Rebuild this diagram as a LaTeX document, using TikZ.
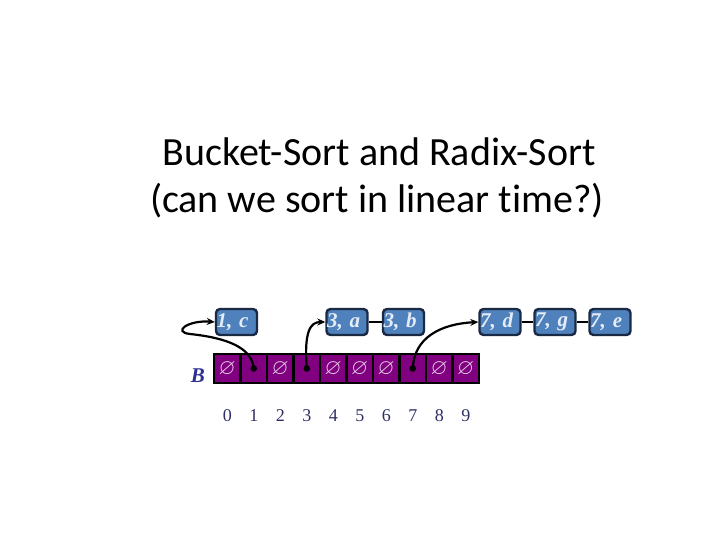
\documentclass[tikz,border=0pt]{standalone}
\usepackage{amssymb}
\usepackage{fontspec}
\setmainfont{Liberation Serif}
\newfontfamily\titlefont[Ligatures={NoCommon,NoDiscretionary}]{Carlito}
\usetikzlibrary{arrows.meta}
\definecolor{cellpurple}{HTML}{800080}
\definecolor{boxblue}{HTML}{4F81BD}
\definecolor{boxedge}{HTML}{1B2A44}
\definecolor{boxtext}{HTML}{E4ECF7}
\definecolor{labblue}{HTML}{2E3192}
\definecolor{idxblue}{HTML}{2F2F66}
\definecolor{nullcol}{HTML}{E8D0E8}
\begin{document}
\begin{tikzpicture}[x=1pt,y=-1pt,
  cell/.style={draw=black,line width=2.2pt,fill=cellpurple,minimum width=26.5pt,minimum height=29pt,inner sep=0pt},
  nullsym/.style={text=nullcol,font=\fontsize{22}{24}\selectfont,inner sep=0pt},
  dotnode/.style={circle,fill=black,inner sep=0pt,minimum size=6.5pt},
  item/.style={draw=boxedge,line width=2.4pt,fill=boxblue,rounded corners=4pt,minimum width=41pt,minimum height=26pt,inner sep=0.5pt,text width=40pt,align=left,text=boxtext,font=\fontsize{21}{22}\selectfont\bfseries\itshape},
  idx/.style={text=idxblue,font=\fontsize{18}{20}\selectfont,anchor=base},
  link/.style={line width=2.2pt,black},
  arr/.style={line width=2.2pt,black,-{Stealth[length=8pt,width=7pt]}},
  titletext/.style={font=\titlefont\fontsize{40}{44}\selectfont,anchor=base}
]
\useasboundingbox (0,0) rectangle (720,540);
\fill[white] (0,0) rectangle (720,540);

% title
\node[titletext] (t1) at (379,166) {Bucket-Sort and Radix-Sort};
\node[titletext] (t2) at (377,213) {(can we sort in linear time?)};

% array cells
\foreach \i in {0,...,9} {
  \node[cell] (c\i) at ({214+26.5*(\i+0.5)},368.5) {};
}
\foreach \i in {0,2,4,5,6,8,9} {
  \node[nullsym] (n\i) at (c\i) {$\varnothing$};
}
\node[dotnode] (d1) at (c1) {};
\node[dotnode] (d3) at (c3) {};
\node[dotnode] (d7) at (c7) {};

% indices
\foreach \i in {0,...,9} {
  \node[idx] (l\i) at ({214+26.5*(\i+0.5)},421) {\i};
}

% B label
\node[text=labblue,font=\fontsize{21}{22}\selectfont\bfseries\itshape] (B) at (198,376) {B};

% list items
\node[item] (e1c) at (236.5,322) {1, c};
\node[item] (e3a) at (347,322) {3, a};
\node[item] (e3b) at (403.5,322) {3, b};
\node[item] (e7d) at (500,322) {7, d};
\node[item] (e7g) at (555,322) {7, g};
\node[item] (e7e) at (610,322) {7, e};

\draw[link] (e3a) -- (e3b);
\draw[link] (e7d) -- (e7g);
\draw[link] (e7g) -- (e7e);

% pointers
\draw[arr] (d1.center) .. controls (252,348) and (228,338) .. (190,334)
  .. controls (172,332) and (188,320) .. (e1c.west);
\draw[arr] (d3.center) .. controls (304,332) and (310,322) .. (e3a.west);
\draw[arr] (d7.center) .. controls (414,338) and (440,324) .. (e7d.west);
\end{tikzpicture}
\end{document}
